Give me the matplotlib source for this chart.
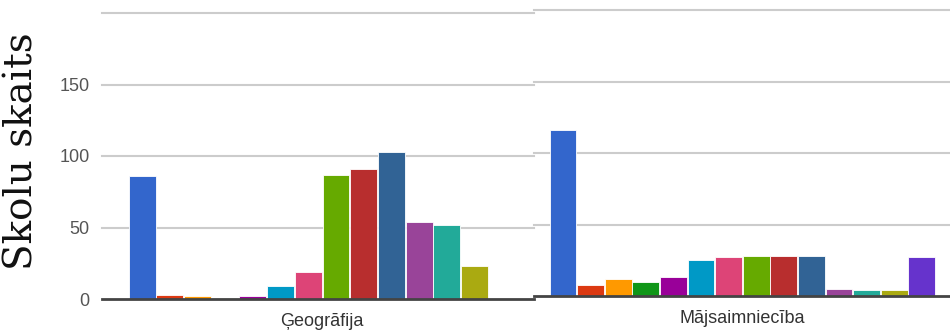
import matplotlib
matplotlib.use("Agg")
import matplotlib.pyplot as plt

# School counts per group, two subjects
geo_values = [86, 3, 2, 1, 2, 9, 19, 87, 91, 103, 54, 52, 23]
home_values = [116, 8, 12, 10, 13, 25, 27, 28, 28, 28, 5, 4, 4, 27]
palette = ["#3366cc", "#dc3912", "#ff9900", "#109618", "#990099", "#0099c6",
           "#dd4477", "#66aa00", "#b82e2e", "#316395", "#994499", "#22aa99",
           "#aaaa11", "#6633cc"]
subjects = ["Ģeogrāfija", "Mājsaimniecība"]
y_ticks = [0, 50, 100, 150, 200]
y_tick_labels = ["0", "50", "100", "150", ""]
y_label = "Skolu skaits"

W, H = 950, 332
fig = plt.figure(figsize=(W / 100, H / 100), dpi=100)

def px_axes(x0, x1, y_base, y_top):
    return fig.add_axes([x0 / W, 1 - y_base / H, (x1 - x0) / W, (y_base - y_top) / H])

def draw_panel(ax, values, subject, xlim):
    xs = list(range(len(values)))
    ax.bar(xs, values, width=0.97, color=palette[:len(values)],
           edgecolor="white", linewidth=0.6, zorder=3)
    ax.set_xlim(*xlim)
    ax.set_ylim(0, 200)
    ax.set_yticks(y_ticks)
    for v in y_ticks[1:]:
        ax.axhline(v, color="#cccccc", lw=1.5, zorder=1, clip_on=False)
    ax.axhline(0, color="#444444", lw=2.0, zorder=4, clip_on=False)
    for s in ax.spines.values():
        s.set_visible(False)
    ax.set_xticks([6.5])
    ax.set_xticklabels([subject], fontsize=13, color="#333333",
                       fontfamily="Liberation Sans")
    ax.tick_params(axis="x", length=0, pad=10)
    ax.tick_params(axis="y", length=0)
    ax.patch.set_alpha(0)

ax1 = px_axes(102, 534, 299, 13)
draw_panel(ax1, geo_values, subjects[0], (-1.45, 14.15))
ax1.set_yticklabels(y_tick_labels, fontsize=13, color="#555555",
                    fontfamily="Liberation Sans")
ax1.tick_params(axis="y", pad=9)

ax2 = px_axes(534, 950, 296, 10)
draw_panel(ax2, home_values, subjects[1], (-1.05, 14.02))
ax2.set_yticklabels([])

fig.text(22 / W, 1 - 151 / H, y_label, rotation=90, ha="center", va="center",
         fontsize=28, fontfamily="DejaVu Serif", color="#111111")

fig.savefig("out.png", dpi=100)
